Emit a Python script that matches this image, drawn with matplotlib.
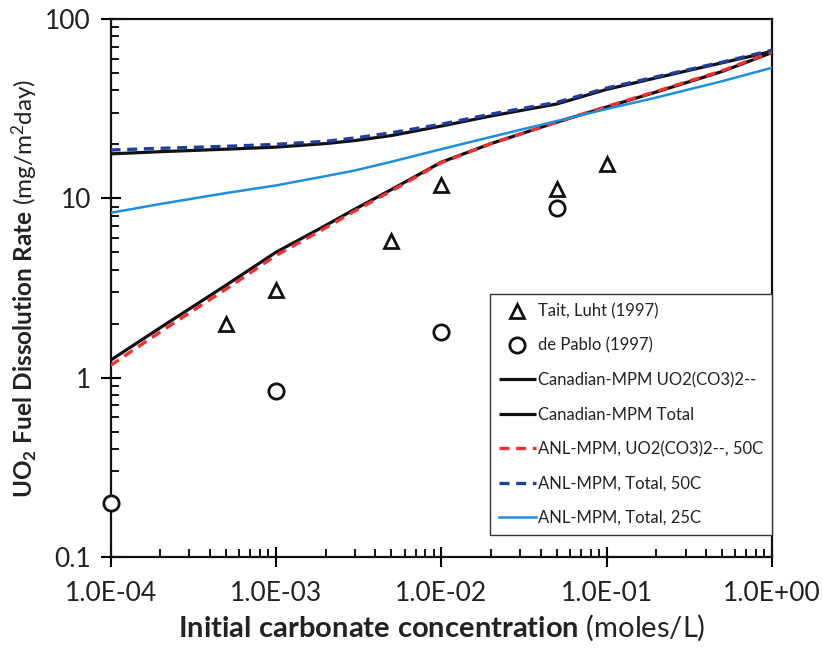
import matplotlib
matplotlib.use("Agg")

import matplotlib.pyplot as plt
from matplotlib.ticker import LogLocator, FixedLocator, NullFormatter

# ==================================================
# Data
# ==================================================
conc = [1e-4, 2e-4, 5e-4, 1e-3, 2e-3, 3e-3, 5e-3, 1e-2, 2e-2, 5e-2, 1e-1, 2e-1, 5e-1, 1.0]

can_uo2co3 = [1.25, 1.9, 3.28, 5.0, 7.06, 8.7, 11.2, 15.9, 20.2, 26.6, 32.3, 39.2, 51.0, 65.0]
can_total = [17.7, 18.2, 18.8, 19.3, 20.2, 21.0, 22.4, 25.3, 28.8, 33.6, 40.5, 47.0, 57.0, 66.0]
anl_uo2co3_50 = [1.17, 1.8, 3.12, 4.8, 6.85, 8.5, 11.0, 15.8, 20.2, 26.6, 32.5, 39.5, 51.5, 65.5]
anl_total_50 = [18.6, 19.0, 19.5, 20.0, 20.8, 21.7, 23.2, 25.9, 29.5, 34.3, 41.2, 47.6, 57.5, 67.0]
anl_total_25 = [8.3, 9.3, 10.7, 11.8, 13.3, 14.3, 16.0, 18.8, 22.0, 27.0, 31.5, 36.5, 45.0, 53.5]

tait_x = [5e-4, 1e-3, 5e-3, 1e-2, 5e-2, 1e-1]
tait_y = [2.0, 3.1, 5.8, 11.8, 11.3, 15.5]

pablo_x = [1e-4, 1e-3, 1e-2, 5e-2]
pablo_y = [0.2, 0.84, 1.8, 8.8]

x_ticks = [1e-4, 1e-3, 1e-2, 1e-1, 1.0]
x_tick_labels = ["1.0E-04", "1.0E-03", "1.0E-02", "1.0E-01", "1.0E+00"]
y_ticks = [0.1, 1, 10, 100]
y_tick_labels = ["0.1", "1", "10", "100"]

# ==================================================
# Fonts
# ==================================================
plt.rcParams["font.family"] = ["Lato", "DejaVu Sans"]
plt.rcParams["mathtext.fontset"] = "custom"
plt.rcParams["mathtext.rm"] = "Lato"
plt.rcParams["mathtext.it"] = "Lato"
plt.rcParams["mathtext.bf"] = "Lato:bold"

TXT = "#222222"

fig = plt.figure(figsize=(8.23, 6.49), dpi=100)
ax = fig.add_axes([0.1343, 0.1418, 0.8037, 0.8289])

ax.plot(conc, can_uo2co3, color="#111111", lw=2.3, solid_capstyle="butt",
        label="Canadian-MPM UO2(CO3)2--", zorder=3)
ax.plot(conc, can_total, color="#111111", lw=2.3, solid_capstyle="butt",
        label="Canadian-MPM Total", zorder=3)
ax.plot(conc, anl_uo2co3_50, color="#f03030", lw=2.4, ls=(0, (3, 2)),
        label="ANL-MPM, UO2(CO3)2--, 50C", zorder=4)
ax.plot(conc, anl_total_50, color="#1f3f9f", lw=2.4, ls=(0, (3, 2)),
        label="ANL-MPM, Total, 50C", zorder=4)
ax.plot(conc, anl_total_25, color="#1e8fe0", lw=1.8,
        label="ANL-MPM, Total, 25C", zorder=4)

ax.plot(tait_x, tait_y, ls="none", marker="^", ms=10, mfc="white",
        mec="#111111", mew=2, label="Tait, Luht (1997)", zorder=5)
ax.plot(pablo_x, pablo_y, ls="none", marker="o", ms=11, mfc="white",
        mec="#111111", mew=2, label="de Pablo (1997)", zorder=5, clip_on=False)

ax.set_xscale("log")
ax.set_yscale("log")
ax.set_xlim(1e-4, 1.0)
ax.set_ylim(0.1, 100)

ax.xaxis.set_major_locator(FixedLocator(x_ticks))
ax.set_xticklabels(x_tick_labels)
ax.yaxis.set_major_locator(FixedLocator(y_ticks))
ax.set_yticklabels(y_tick_labels)
ax.xaxis.set_minor_locator(LogLocator(base=10, subs=range(2, 10)))
ax.yaxis.set_minor_locator(LogLocator(base=10, subs=range(2, 10)))
ax.xaxis.set_minor_formatter(NullFormatter())
ax.yaxis.set_minor_formatter(NullFormatter())

ax.tick_params(which="major", direction="inout", length=14, width=1.5,
               labelsize=19, labelcolor=TXT, pad=7)
ax.tick_params(axis="x", which="major", pad=10)
ax.tick_params(which="minor", direction="in", length=6, width=1.3)
ax.tick_params(top=False, right=False, which="both")

for side in ["left", "bottom", "top", "right"]:
    ax.spines[side].set_linewidth(1.6)
    ax.spines[side].set_color("#111111")

ax.set_xlabel(r"$\mathbf{Initial\ carbonate\ concentration}$ (moles/L)",
              fontsize=21, color=TXT, labelpad=5)
ax.set_ylabel(r"$\mathbf{UO_2\ Fuel\ Dissolution\ Rate}$ (mg/m$^2$day)",
              fontsize=17.5, color=TXT, labelpad=4)

# legend order as in the reference
handles, labels = ax.get_legend_handles_labels()
order = [5, 6, 0, 1, 2, 3, 4]
leg = ax.legend([handles[i] for i in order], [labels[i] for i in order],
                loc="lower right", bbox_to_anchor=(1.0, 0.041),
                borderaxespad=0, fontsize=12, frameon=True, fancybox=False,
                edgecolor="#333333", framealpha=1, labelspacing=1.1,
                handlelength=2.2, handletextpad=0.12, borderpad=0.55)
leg.get_frame().set_linewidth(1.0)
for t in leg.get_texts():
    t.set_color(TXT)

fig.savefig("out.png", dpi=100)
